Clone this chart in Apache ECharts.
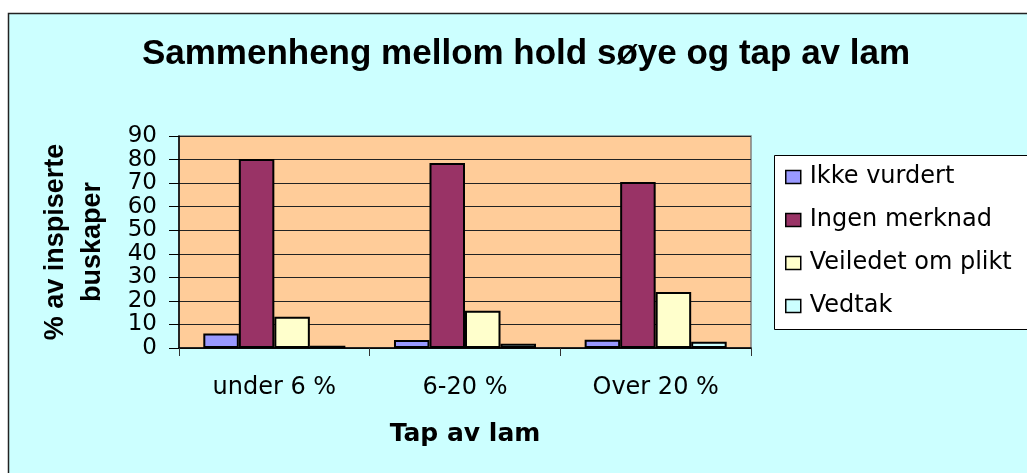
<!DOCTYPE html>
<html>
<head>
<meta charset="utf-8">
<script src="https://cdn.jsdelivr.net/npm/echarts@6/dist/echarts.min.js"></script>
<style>
html,body{margin:0;padding:0;background:#fff;}
#c{width:1027px;height:473px;}
</style>
</head>
<body>
<div id="c"></div>
<script>
const categories = ['under 6 %', '6-20 %', 'Over 20 %'];
const seriesNames = ['Ikke vurdert', 'Ingen merknad', 'Veiledet om plikt', 'Vedtak'];
const ikkeVurdert = [6.2, 3.4, 3.5];
const ingenMerknad = [80.2, 78.5, 70.5];
const veiledetOmPlikt = [13.3, 15.8, 23.8];
const vedtak = [1.0, 1.8, 2.7];
const yTicks = { min: 0, max: 90, interval: 10 };
const colors = ['#9999FF', '#993366', '#FFFFCC', '#CCFFFF'];
const values = [ikkeVurdert, ingenMerknad, veiledetOmPlikt, vedtak];

const chart = echarts.init(document.getElementById('c'), null, { renderer: 'canvas' });
const option = {
  backgroundColor: '#ffffff',
  animation: false,
  title: {
    text: 'Sammenheng mellom hold søye og tap av lam',
    left: 526,
    textAlign: 'center',
    top: 37,
    padding: 0,
    textStyle: { fontFamily: 'Liberation Sans', fontWeight: 'bold', fontSize: 35, color: '#000', lineHeight: 35 }
  },
  graphic: [
    {
      type: 'rect', z: -10, silent: true,
      shape: { x: 8.5, y: 13.5, width: 1100, height: 500 },
      style: { fill: '#CCFFFF', stroke: '#222', lineWidth: 1.5 }
    },
    {
      type: 'rect', z: 1, silent: true,
      shape: { x: 774.5, y: 155.5, width: 300, height: 174 },
      style: { fill: '#ffffff', stroke: '#000', lineWidth: 1 }
    }
  ],
  legend: {
    orient: 'vertical',
    left: 785,
    top: 165,
    padding: 0,
    z: 10,
    itemGap: 19,
    itemWidth: 15,
    itemHeight: 13,
    icon: 'rect',
    itemStyle: { borderColor: '#000', borderWidth: 1.5 },
    textStyle: { fontFamily: 'DejaVu Sans', fontSize: 24, lineHeight: 24, color: '#000', padding: [0, 0, 0, 4] },
    data: seriesNames
  },
  grid: {
    left: 179, right: 276, top: 136, bottom: 125,
    show: true, backgroundColor: '#FFCC99', borderColor: '#808080', borderWidth: 1.5
  },
  xAxis: {
    type: 'category',
    data: categories,
    name: 'Tap av lam',
    nameLocation: 'middle',
    nameGap: 74,
    nameTextStyle: { fontFamily: 'DejaVu Sans', fontWeight: 'bold', fontSize: 25, color: '#000', lineHeight: 25 },
    axisLine: { lineStyle: { color: '#000', width: 1.5 } },
    axisTick: { show: true, alignWithLabel: false, length: 8, lineStyle: { color: '#333' } },
    axisLabel: { margin: 28, fontFamily: 'DejaVu Sans', fontSize: 24, lineHeight: 24, color: '#000' }
  },
  yAxis: {
    type: 'value',
    min: yTicks.min, max: yTicks.max, interval: yTicks.interval,
    name: '% av inspiserte\nbuskaper',
    nameLocation: 'middle',
    nameRotate: 90,
    nameGap: 68,
    nameTextStyle: { fontFamily: 'Liberation Sans', fontWeight: 'bold', fontSize: 27, lineHeight: 37, color: '#000', align: 'center' },
    axisLine: { show: true, lineStyle: { color: '#000', width: 1.5 } },
    axisTick: { show: true, length: 10, lineStyle: { color: '#000' } },
    axisLabel: { margin: 22, fontFamily: 'DejaVu Sans', fontSize: 23, color: '#000' },
    splitLine: { show: true, lineStyle: { color: '#222', width: 1 } }
  },
  series: seriesNames.map((n, i) => ({
    name: n,
    type: 'bar',
    data: values[i],
    barGap: '0%',
    barCategoryGap: '25.5%',
    itemStyle: { color: colors[i], borderColor: '#000', borderWidth: 2 }
  }))
};
chart.setOption(option);
</script>
</body>
</html>
